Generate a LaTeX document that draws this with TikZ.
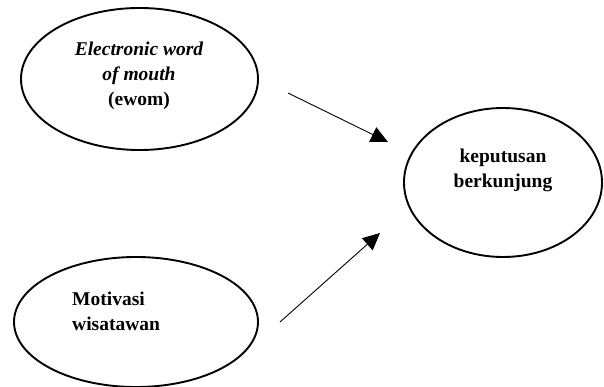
\documentclass[tikz,border=0pt]{standalone}
\usepackage{fontspec}
\setmainfont{Liberation Serif}
\usetikzlibrary{shapes.geometric,arrows.meta}
\begin{document}
\begin{tikzpicture}[x=1pt,y=-1pt,
  oval/.style={draw,line width=1.9pt,ellipse,inner sep=0pt},
  lbl/.style={font=\fontsize{19.5}{25}\selectfont\bfseries,inner sep=0pt},
  conn/.style={line width=0.9pt,-{Triangle[length=17pt,width=16pt]}}]
\useasboundingbox (0,0) rectangle (604,387);
\node[oval,minimum width=237pt,minimum height=142pt] (e1) at (139.5,79) {};
\node[oval,minimum width=198pt,minimum height=149pt] (e3) at (503,182.5) {};
\node[oval,minimum width=244pt,minimum height=130pt] (e2) at (136,322) {};
\node[lbl,align=center,anchor=base] (t1) at (139,106) {\itshape Electronic word\\\itshape of mouth\\(ewom)};
\node[lbl,align=center,anchor=base] (t3) at (503,188) {keputusan\\berkunjung};
\node[lbl,align=left,anchor=base west] (t2) at (72,330) {Motivasi\\wisatawan};
\coordinate (a1s) at (288,93);
\coordinate (a1e) at (388,142);
\coordinate (a2s) at (280,322);
\coordinate (a2e) at (380,233);
\draw[conn] (a1s) -- (a1e);
\draw[conn] (a2s) -- (a2e);
\end{tikzpicture}
\end{document}
